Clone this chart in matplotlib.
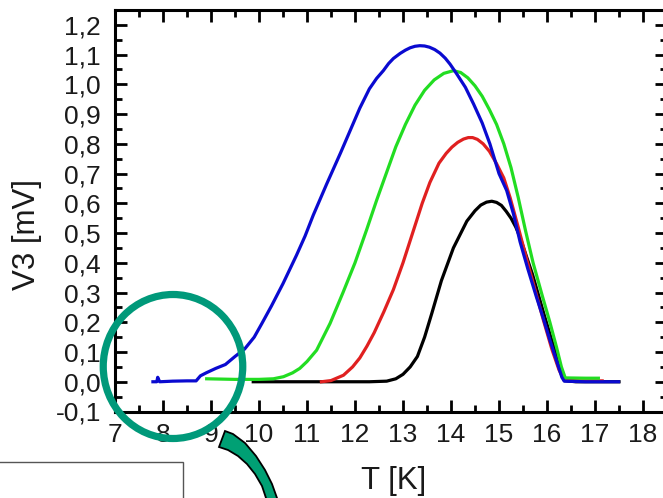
import matplotlib
matplotlib.use('Agg')
import matplotlib.pyplot as plt
from matplotlib.patches import Ellipse, Polygon, Rectangle
from matplotlib.ticker import MultipleLocator, FuncFormatter

plt.rcParams['font.family'] = ['Liberation Sans', 'DejaVu Sans']

# Data: T [K] and V3 [mV]
black_t = [9.88, 10.5, 11.5, 12.3, 12.66, 12.85, 13.0, 13.15, 13.3, 13.45,
           13.6, 13.8, 14.05, 14.33, 14.5, 14.62, 14.74, 14.85, 14.95, 15.05,
           15.15, 15.25, 15.35, 15.44, 15.7, 15.95, 16.2, 16.36, 16.6, 17.0,
           17.5]
black_v = [0.0, 0.0, 0.0, 0.0, 0.002, 0.01, 0.025, 0.05, 0.085, 0.15,
           0.23, 0.34, 0.45, 0.54, 0.575, 0.594, 0.604, 0.607, 0.603, 0.593,
           0.573, 0.55, 0.52, 0.485, 0.36, 0.22, 0.085, 0.004, 0.0, 0.0,
           0.0]

red_t = [11.3, 11.5, 11.76, 11.95, 12.1, 12.25, 12.4, 12.6, 12.8, 13.0, 13.2,
         13.4, 13.56, 13.75, 13.9, 14.02, 14.14, 14.26, 14.36, 14.45, 14.55,
         14.67, 14.8, 14.95, 15.1, 15.23, 15.4, 15.58, 15.75, 15.92, 16.1,
         16.25, 16.36, 16.7, 17.15]
red_v = [0.0, 0.004, 0.022, 0.05, 0.08, 0.12, 0.165, 0.235, 0.31, 0.4, 0.5,
         0.6, 0.67, 0.735, 0.768, 0.789, 0.805, 0.816, 0.821, 0.821, 0.815,
         0.8, 0.775, 0.733, 0.685, 0.62, 0.52, 0.41, 0.31, 0.21, 0.11,
         0.04, 0.005, 0.003, 0.003]

green_t = [8.91, 9.5, 10.0, 10.3, 10.51, 10.7, 10.85, 11.0, 11.2, 11.48,
           11.75, 12.0, 12.24, 12.45, 12.65, 12.85, 13.05, 13.25, 13.45,
           13.65, 13.85, 14.05, 14.2, 14.35, 14.5, 14.65, 14.8, 14.95, 15.1,
           15.25, 15.4, 15.55, 15.71, 15.9, 16.06, 16.2, 16.3, 16.38, 16.8,
           17.07]
green_v = [0.01, 0.008, 0.008, 0.01, 0.017, 0.03, 0.045, 0.068, 0.106, 0.196,
           0.3, 0.40, 0.51, 0.61, 0.70, 0.79, 0.865, 0.93, 0.98,
           1.015, 1.037, 1.046, 1.04, 1.022, 0.995, 0.96, 0.915, 0.865, 0.80,
           0.72, 0.62, 0.51, 0.40, 0.29, 0.20, 0.115, 0.05, 0.013, 0.012,
           0.012]

blue_t = [7.79, 7.87, 7.89, 7.93, 8.2, 8.5, 8.69, 8.78, 8.9, 9.1, 9.3, 9.5,
          9.7, 9.9, 10.06, 10.26, 10.5, 10.78, 10.96, 11.13, 11.41, 11.7,
          11.9, 12.1, 12.3, 12.45, 12.59, 12.7, 12.8, 12.94, 13.05, 13.15,
          13.25, 13.35, 13.45, 13.55, 13.66, 13.77, 13.88, 13.98, 14.12,
          14.3, 14.47, 14.65, 14.81, 15.0, 15.16, 15.3, 15.44, 15.6, 15.78,
          15.92, 16.06, 16.2, 16.31, 16.36, 16.8, 17.2, 17.49]
blue_v = [0.0, 0.0, 0.015, 0.0, 0.002, 0.003, 0.003, 0.02, 0.03, 0.045,
          0.058, 0.085, 0.11, 0.15, 0.196, 0.255, 0.33, 0.425, 0.49, 0.56,
          0.665, 0.77, 0.845, 0.92, 0.985, 1.02, 1.046, 1.07, 1.087, 1.104,
          1.115, 1.123, 1.128, 1.13, 1.129, 1.125, 1.117, 1.105, 1.088,
          1.068, 1.035, 0.99, 0.934, 0.87, 0.80, 0.70, 0.643, 0.565, 0.47,
          0.38, 0.285, 0.215, 0.14, 0.07, 0.015, 0.002, 0.0, 0.0, 0.0]

W, H = 663, 498
fig = plt.figure(figsize=(W / 100, H / 100), dpi=100)
fig.patch.set_facecolor('white')


def px(x, y):
    """pixel position -> figure fraction"""
    return (x / W, 1 - y / H)


# axes box in pixels: left 115, right 667, top 10, bottom 411.5
ax = fig.add_axes([115 / W, 1 - 411.5 / H, 552 / W, 401.5 / H])

ax.plot(black_t, black_v, color='black', lw=2.3)
ax.plot(red_t, red_v, color='#e02020', lw=2.3)
ax.plot(green_t, green_v, color='#22dd22', lw=2.3)
ax.plot(blue_t, blue_v, color='#0a0ad0', lw=2.3)

ax.set_xlim(7, 18.5)
ax.set_ylim(-0.1, 1.25)
ax.xaxis.set_major_locator(MultipleLocator(1))
ax.xaxis.set_minor_locator(MultipleLocator(0.5))
ax.yaxis.set_major_locator(MultipleLocator(0.1))
ax.yaxis.set_minor_locator(MultipleLocator(0.05))
ax.xaxis.set_major_formatter(FuncFormatter(lambda v, p: '%d' % round(v)))
ax.yaxis.set_major_formatter(
    FuncFormatter(lambda v, p: ('%.1f' % v).replace('.', ',').replace('-0,0', '0,0')))

for s in ax.spines.values():
    s.set_linewidth(2.2)
ax.tick_params(which='both', direction='in', top=True, right=True,
               width=2.0, colors='black', labelcolor='#1a1a1a')
ax.tick_params(which='major', length=8.5, labelsize=19)
ax.tick_params(which='minor', length=5)
ax.tick_params(axis='y', which='major', pad=10)
ax.tick_params(axis='x', which='major', pad=8.5)

ax.set_xlabel('T [K]', fontsize=22.5, color='#1a1a1a')
ax.set_ylabel('V3 [mV]', fontsize=22.5, color='#1a1a1a')
ax.xaxis.set_label_coords(0.504, -0.136)
ax.yaxis.set_label_coords(-0.132, 0.442)

# slide decorations: circle, curved arrow and box
cx, cy = px(173, 366.5)
fig.add_artist(Ellipse((cx, cy), 139.5 / W, 144 / H, fill=False,
                       edgecolor='#00997a', lw=5.2,
                       transform=fig.transFigure, zorder=10))

arrow_px = [(225, 431), (233, 434), (245, 443), (256, 456), (265, 470),
            (272, 484), (277, 498), (279, 503), (268, 503), (266, 498),
            (262, 486), (255, 474), (247, 464), (238, 456), (228, 450),
            (219, 447)]
fig.add_artist(Polygon([px(x, y) for x, y in arrow_px], closed=True,
                       facecolor='#00a074', edgecolor='black', lw=1.3,
                       transform=fig.transFigure, zorder=11))

bx, by = px(-2, 510)
fig.add_artist(Rectangle((bx, by), 185 / W, 48 / H, facecolor='white',
                         edgecolor='#555555', lw=1.0,
                         transform=fig.transFigure, zorder=9))

fig.savefig('out.png', dpi=100)
